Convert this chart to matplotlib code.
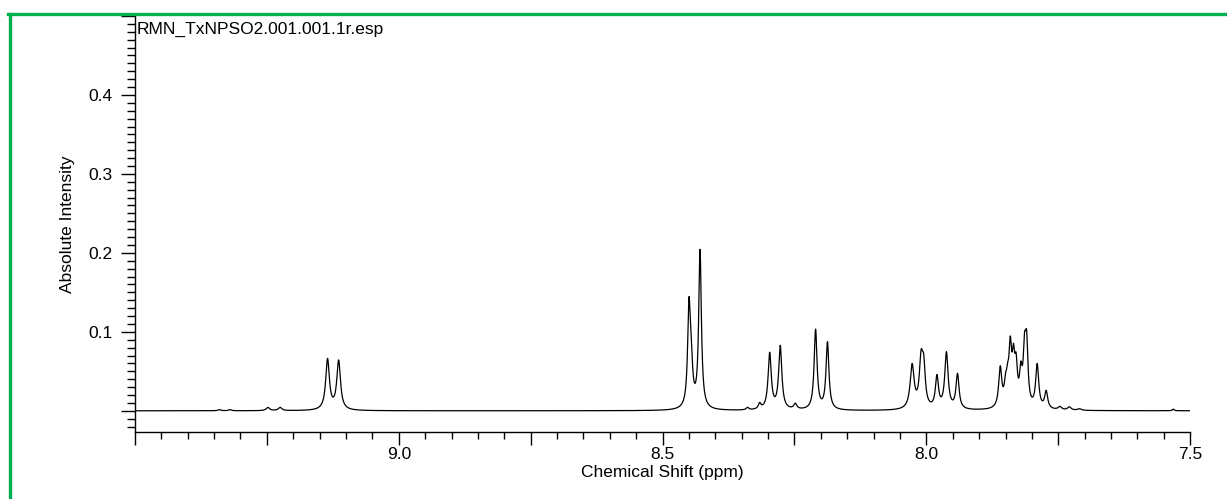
"""
1H NMR spectrum, aromatic region (RMN_TxNPSO2.001.001.1r.esp)
"""
import numpy as np
import matplotlib.pyplot as plt
from matplotlib.ticker import MultipleLocator, FuncFormatter
from matplotlib.lines import Line2D

plt.rcParams['font.family'] = ['Liberation Sans', 'DejaVu Sans']

# peak list: position (ppm), height, half width (ppm)
peak_ppm = [9.34, 9.32, 9.248, 9.225, 9.135, 9.114,
            8.450, 8.446, 8.429, 8.339, 8.316,
            8.297, 8.277, 8.2485, 8.210, 8.1875,
            8.027, 8.010, 8.005, 7.980, 7.962, 7.941,
            7.860, 7.850, 7.846, 7.841, 7.835, 7.830, 7.821, 7.814, 7.810,
            7.790, 7.773, 7.747, 7.729, 7.710, 7.532]
peak_height = [0.0015, 0.0015, 0.004, 0.004, 0.064, 0.062,
               0.118, 0.05, 0.200, 0.003, 0.007,
               0.071, 0.080, 0.007, 0.101, 0.085,
               0.055, 0.058, 0.045, 0.040, 0.071, 0.044,
               0.050, 0.022, 0.025, 0.068, 0.052, 0.045, 0.038, 0.062, 0.072,
               0.055, 0.022, 0.004, 0.004, 0.002, 0.002]
peak_width = [0.003, 0.003, 0.004, 0.004, 0.0042, 0.0042,
              0.003, 0.0035, 0.003, 0.003, 0.003,
              0.0036, 0.0036, 0.0035, 0.0033, 0.0033,
              0.0045, 0.004, 0.0035, 0.0035, 0.0038, 0.0035,
              0.0035, 0.003, 0.003, 0.003, 0.003, 0.003, 0.003, 0.003, 0.003,
              0.0035, 0.0035, 0.004, 0.004, 0.004, 0.002]

x_ticks = [9.0, 8.5, 8.0, 7.5]
title = 'RMN_TxNPSO2.001.001.1r.esp'

# build the trace as a sum of Lorentzian lines
ppm = np.linspace(9.5, 7.5, 12000)
intensity = np.zeros_like(ppm)
for p, h, w in zip(peak_ppm, peak_height, peak_width):
    intensity += h * w**2 / ((ppm - p)**2 + w**2)

fig = plt.figure(figsize=(12.27, 4.99), dpi=100)
ax = fig.add_axes([0.110, 0.134, 0.860, 0.834])

ax.plot(ppm, intensity, color='black', linewidth=0.9)

ax.set_xlim(9.5, 7.5)
ax.set_ylim(-0.027, 0.5)

for side in ['top', 'right']:
    ax.spines[side].set_visible(False)
for side in ['left', 'bottom']:
    ax.spines[side].set_linewidth(1.0)

# x: labelled every 0.5, medium ticks every 0.25, minor every 0.05
ax.xaxis.set_major_locator(MultipleLocator(0.25))
ax.xaxis.set_minor_locator(MultipleLocator(0.05))
ax.xaxis.set_major_formatter(FuncFormatter(
    lambda v, pos: f'{v:.1f}' if any(abs(v - t) < 1e-6 for t in x_ticks) else ''))
ax.tick_params(axis='x', which='major', length=9, width=1, pad=2, labelsize=12.5)
ax.tick_params(axis='x', which='minor', length=5, width=1)

# y: labelled 0.1 .. 0.4, minor every 0.01
ax.yaxis.set_major_locator(MultipleLocator(0.1))
ax.yaxis.set_minor_locator(MultipleLocator(0.01))
ax.yaxis.set_major_formatter(FuncFormatter(
    lambda v, pos: f'{v:.1f}' if 0.05 < v < 0.45 else ''))
ax.tick_params(axis='y', which='major', length=10, width=1, pad=6, labelsize=12.5)
ax.tick_params(axis='y', which='minor', length=6, width=1)

ax.set_xlabel('Chemical Shift (ppm)', fontsize=12.5)
ax.set_ylabel('Absolute Intensity', fontsize=12.5)
ax.xaxis.set_label_coords(0.5, -0.078)
ax.yaxis.set_label_coords(-0.057, 0.5)

ax.text(0.002, 0.985, title, transform=ax.transAxes, fontsize=12.5,
        ha='left', va='top')

# green frame along top and left edge of the figure
fig.add_artist(Line2D([9.5 / 1227, 9.5 / 1227], [0, 1 - 14 / 499],
                      transform=fig.transFigure, color='#00b050', linewidth=2.4))
fig.add_artist(Line2D([8 / 1227, 1], [1 - 14 / 499, 1 - 14 / 499],
                      transform=fig.transFigure, color='#00b050', linewidth=2.4))

fig.savefig('out.png', dpi=100)
